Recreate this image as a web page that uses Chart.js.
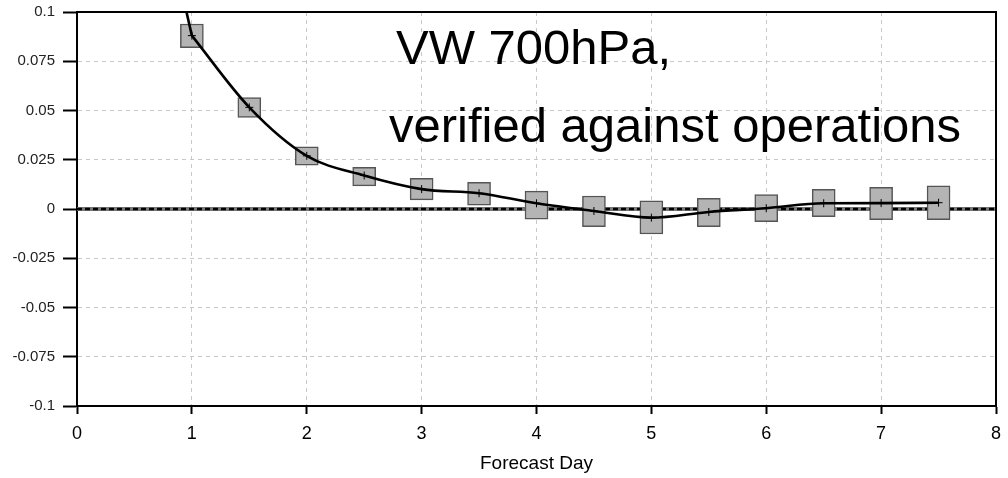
<!DOCTYPE html>
<html>
<head>
<meta charset="utf-8">
<script src="https://cdn.jsdelivr.net/npm/chart.js@4.4.1/dist/chart.umd.min.js"></script>
<style>
  html, body { margin: 0; padding: 0; background: #fff; }
  #wrap { position: relative; width: 1008px; height: 478px; }
  canvas { display: block; }
</style>
</head>
<body>
<div id="wrap"><canvas id="c" width="1008" height="478"></canvas></div>
<script>
// ---- Data ----
const days      = [1, 1.5, 2, 2.5, 3, 3.5, 4, 4.5, 5, 5.5, 6, 6.5, 7, 7.5];
const boxLow    = [0.0819, 0.0465, 0.0223, 0.0117, 0.0046, 0.0020, -0.0052, -0.0090, -0.0127, -0.0090, -0.0064, -0.0039, -0.0054, -0.0054];
const boxHigh   = [0.0939, 0.0565, 0.0315, 0.0212, 0.0156, 0.0136, 0.0091, 0.0066, 0.0041, 0.0054, 0.0073, 0.0100, 0.0110, 0.0117];
const lineVals  = [0.088, 0.0516, 0.027, 0.0170, 0.0101, 0.0080, 0.0029, -0.0010, -0.0044, -0.0015, 0.0004, 0.0029, 0.0030, 0.0032];
const leadDays  = [0.5, 1];
const leadVals  = [0.216, 0.088];
const zeroDays  = [0, 8];
const zeroVals  = [0, 0];
const xTickLabels = ['0', '1', '2', '3', '4', '5', '6', '7', '8'];
const yTickLabels = ['-0.1', '-0.075', '-0.05', '-0.025', '0', '0.025', '0.05', '0.075', '0.1'];
const titleLines = ['VW 700hPa,', 'verified against operations'];
const xTitle = 'Forecast Day';

const FONT = "'Liberation Sans', Arial, Helvetica, sans-serif";

const boxData  = days.map((d, i) => ({ x: d, y: [boxLow[i], boxHigh[i]] }));
const lineData = days.map((d, i) => ({ x: d, y: lineVals[i] }));
const leadData = leadDays.map((d, i) => ({ x: d, y: leadVals[i] }));
const zeroData = zeroDays.map((d, i) => ({ x: d, y: zeroVals[i] }));

const framePlugin = {
  id: 'frame',
  afterDatasetsDraw(chart) {
    const { ctx, chartArea: a } = chart;
    ctx.save();
    ctx.strokeStyle = '#000';
    ctx.lineWidth = 2;
    ctx.beginPath();
    ctx.moveTo(a.left, a.top);
    ctx.lineTo(a.right, a.top);
    ctx.lineTo(a.right, a.bottom);
    ctx.stroke();
    ctx.restore();
  }
};

const titlePlugin = {
  id: 'bigTitle',
  afterDraw(chart) {
    const ctx = chart.ctx;
    ctx.save();
    ctx.fillStyle = '#000';
    ctx.font = '49px ' + FONT;
    ctx.textBaseline = 'alphabetic';
    ctx.textAlign = 'left';
    ctx.fillText(titleLines[0], 396, 64);
    ctx.fillText(titleLines[1], 389, 142);
    ctx.restore();
  }
};

new Chart(document.getElementById('c'), {
  type: 'line',
  data: {
    datasets: [
      {
        type: 'line',
        data: lineData,
        borderColor: '#000',
        borderWidth: 2.6,
        cubicInterpolationMode: 'monotone',
        pointStyle: 'cross',
        pointRadius: 4,
        pointBorderWidth: 1,
        pointBorderColor: '#000',
        fill: false,
        order: 0
      },
      {
        type: 'line',
        data: leadData,
        borderColor: '#000',
        borderWidth: 2.6,
        tension: 0,
        pointRadius: 0,
        fill: false,
        order: 1
      },
      {
        type: 'bar',
        data: boxData,
        backgroundColor: '#b4b4b4',
        borderColor: '#555',
        borderWidth: 1.5,
        borderSkipped: false,
        barThickness: 23,
        order: 2
      },
      {
        type: 'line',
        data: zeroData,
        borderColor: '#000',
        borderWidth: 2.5,
        borderDash: [5, 3],
        pointRadius: 0,
        fill: false,
        order: 3
      },
      {
        type: 'line',
        data: zeroData,
        borderColor: '#777',
        borderWidth: 4,
        pointRadius: 0,
        fill: false,
        order: 4
      }
    ]
  },
  options: {
    responsive: false,
    animation: false,
    events: [],
    layout: { padding: { top: 12, right: 12, left: 0, bottom: 0 } },
    plugins: { legend: { display: false }, tooltip: { enabled: false }, title: { display: false } },
    scales: {
      x: {
        type: 'linear',
        min: 0, max: 8,
        offset: false,
        afterFit(s) { s.height = 72; s.paddingLeft = 0; s.paddingRight = 0; },
        ticks: {
          stepSize: 1,
          color: '#000',
          padding: 9,
          font: { family: FONT, size: 18 },
          callback: (v, i) => xTickLabels[i]
        },
        grid: {
          offset: false,
          color: '#c8c8c8',
          lineWidth: 1,
          tickColor: '#000',
          tickWidth: 2,
          tickLength: 8
        },
        border: { display: true, color: '#000', width: 2, dash: [4, 4] },
        title: {
          display: true,
          text: xTitle,
          color: '#000',
          font: { family: FONT, size: 19 },
          padding: { top: 0, bottom: 3 }
        }
      },
      y: {
        type: 'linear',
        min: -0.1, max: 0.1,
        afterFit(s) { s.width = 77; s.paddingTop = 0; s.paddingBottom = 0; },
        ticks: {
          stepSize: 0.025,
          color: '#222',
          padding: 8,
          font: { family: FONT, size: 15 },
          callback: (v, i) => yTickLabels[i]
        },
        grid: {
          offset: false,
          color: '#c8c8c8',
          lineWidth: 1,
          tickColor: '#000',
          tickWidth: 2,
          tickLength: 14
        },
        border: { display: true, color: '#000', width: 2, dash: [4, 4] }
      }
    }
  },
  plugins: [framePlugin, titlePlugin]
});
</script>
</body>
</html>
